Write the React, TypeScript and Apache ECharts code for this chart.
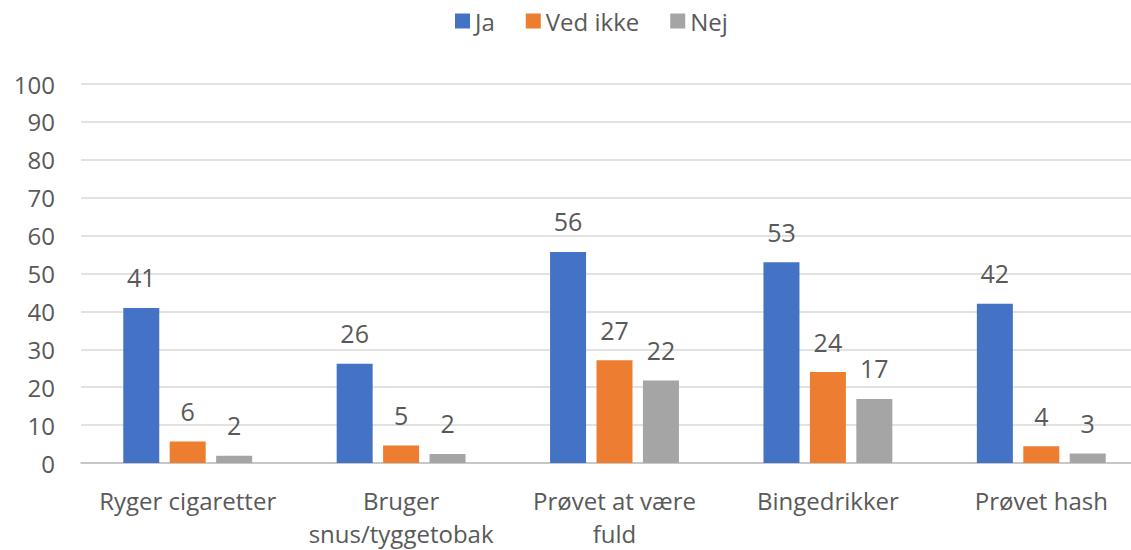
import React, { useEffect, useRef } from "react";
import * as echarts from "echarts";

const categories = [
  "Ryger cigaretter",
  "Bruger\nsnus/tyggetobak",
  "Prøvet at være\nfuld",
  "Bingedrikker",
  "Prøvet hash",
];
const seriesNames = ["Ja", "Ved ikke", "Nej"];
const jaValues = [40.9, 26.2, 55.7, 53.0, 42.0];
const vedIkkeValues = [5.7, 4.6, 27.1, 24.0, 4.4];
const nejValues = [1.9, 2.4, 21.8, 16.9, 2.5];
const colors = ["#4472C4", "#ED7D31", "#A5A5A5"];
const yTicks = { min: 0, max: 100, interval: 10 };

const FONT = "'Open Sans', 'Noto Sans', sans-serif";
const TEXT = "#595959";

export default function App() {
  const ref = useRef<HTMLDivElement>(null);
  useEffect(() => {
    if (!ref.current) return;
    const chart = echarts.init(ref.current, undefined, { renderer: "svg" });
    const data = [jaValues, vedIkkeValues, nejValues];
    chart.setOption({
      animation: false,
      backgroundColor: "#ffffff",
      textStyle: { fontFamily: FONT },
      legend: {
        top: 4,
        left: 450,
        itemWidth: 15,
        itemHeight: 15,
        itemGap: 31,
        icon: "rect",
        textStyle: { fontFamily: FONT, fontSize: 24, color: TEXT },
        data: seriesNames,
      },
      grid: { left: 81, right: 0, top: 84, bottom: 85 },
      xAxis: {
        type: "category",
        data: categories,
        axisTick: { show: false },
        axisLine: { lineStyle: { color: "#BFBFBF", width: 1.5 } },
        axisLabel: {
          fontFamily: FONT,
          fontSize: 24,
          color: TEXT,
          margin: 21,
          lineHeight: 33,
          interval: 0,
        },
      },
      yAxis: {
        type: "value",
        min: yTicks.min,
        max: yTicks.max,
        interval: yTicks.interval,
        axisLine: { show: false },
        axisTick: { show: false },
        splitLine: { lineStyle: { color: "#D9D9D9", width: 1.5 } },
        axisLabel: { fontFamily: FONT, fontSize: 24, color: TEXT, margin: 26 },
      },
      series: seriesNames.map((name, i) => ({
        name,
        type: "bar",
        data: data[i],
        barWidth: 36,
        barGap: "29%",
        itemStyle: { color: colors[i] },
        label: {
          show: true,
          position: "top",
          distance: 18,
          fontFamily: FONT,
          fontSize: 25,
          color: TEXT,
          formatter: (p: any) => String(Math.round(p.value)),
        },
      })),
    });
    return () => chart.dispose();
  }, []);
  return (
    <div style={{ position: "fixed", left: 0, top: 0, width: 1131, height: 550, overflow: "hidden", background: "#fff" }}>
      <div ref={ref} style={{ position: "absolute", left: 0, top: 0, width: 1148, height: 550 }} />
    </div>
  );
}
